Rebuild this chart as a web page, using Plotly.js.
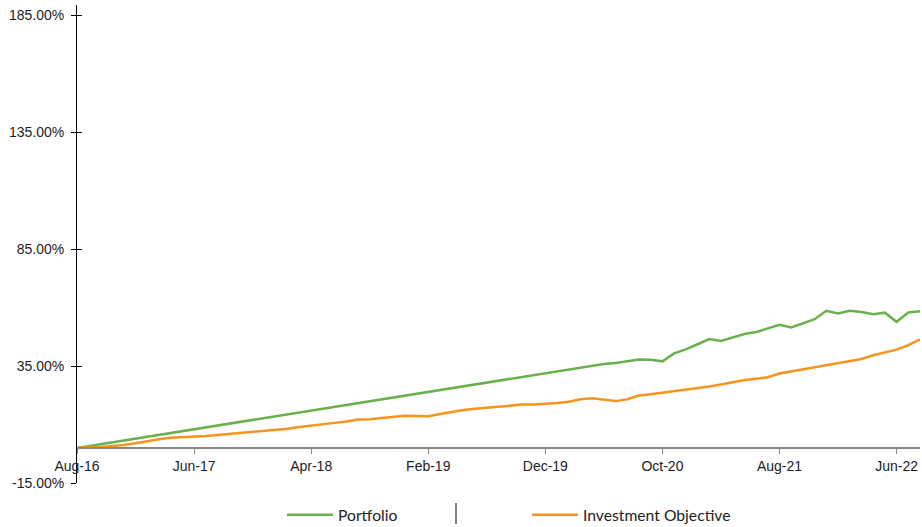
<!DOCTYPE html>
<html>
<head>
<meta charset="utf-8">
<script src="https://cdn.plot.ly/plotly-3.0.1.min.js"></script>
<style>html,body{margin:0;padding:0;background:#fff;}#chart{width:922px;height:527px;}</style>
</head>
<body>
<div id="chart"></div>
<script>
const months = ["Aug-16","Sep-16","Oct-16","Nov-16","Dec-16","Jan-17","Feb-17","Mar-17","Apr-17","May-17",
"Jun-17","Jul-17","Aug-17","Sep-17","Oct-17","Nov-17","Dec-17","Jan-18","Feb-18","Mar-18",
"Apr-18","May-18","Jun-18","Jul-18","Aug-18","Sep-18","Oct-18","Nov-18","Dec-18","Jan-19",
"Feb-19","Mar-19","Apr-19","May-19","Jun-19","Jul-19","Aug-19","Sep-19","Oct-19","Nov-19",
"Dec-19","Jan-20","Feb-20","Mar-20","Apr-20","May-20","Jun-20","Jul-20","Aug-20","Sep-20",
"Oct-20","Nov-20","Dec-20","Jan-21","Feb-21","Mar-21","Apr-21","May-21","Jun-21","Jul-21",
"Aug-21","Sep-21","Oct-21","Nov-21","Dec-21","Jan-22","Feb-22","Mar-22","Apr-22","May-22",
"Jun-22","Jul-22","Aug-22"];

const portfolio = [0.0,0.8,1.6,2.4,3.2,4.0,4.8,5.6,6.4,7.2,
8.0,8.8,9.6,10.4,11.2,12.0,12.8,13.6,14.4,15.2,
16.0,16.8,17.6,18.4,19.2,20.0,20.8,21.6,22.4,23.2,
24.0,24.8,25.6,26.4,27.2,28.0,28.8,29.6,30.4,31.2,
32.0,32.8,33.5,34.3,35.1,35.9,36.3,37.1,37.8,37.7,
37.0,40.4,42.1,44.3,46.5,45.7,47.1,48.7,49.5,51.1,
52.6,51.5,53.2,55.0,58.6,57.5,58.6,58.1,57.1,57.8,
53.9,57.9,58.4];

const objective = [0.0,0.1,0.4,0.8,1.2,2.0,2.9,3.7,4.3,4.5,
4.8,5.1,5.5,5.9,6.5,7.0,7.2,7.7,8.2,8.9,
9.4,10.2,10.7,11.3,12.1,12.2,12.8,13.4,13.7,13.6,
13.5,14.5,15.5,16.2,16.7,17.2,17.7,18.1,18.5,18.6,
18.8,19.2,19.7,20.8,21.2,20.6,20.0,20.8,22.4,22.9,
23.5,24.1,24.7,25.3,26.2,27.1,28.2,29.0,29.6,30.2,
31.8,32.7,33.5,34.3,35.3,36.4,37.1,38.0,39.6,40.8,
42.0,43.9,46.4];

const xTicks = ["Aug-16","Jun-17","Apr-18","Feb-19","Dec-19","Oct-20","Aug-21","Jun-22"];
const yTicks = [-15,35,85,135,185];
const yTickText = ["-15.00%","35.00%","85.00%","135.00%","185.00%"];

const seriesNames = ["Portfolio","Investment Objective"];
const colors = ["#6AB04C","#F7941D"];

const traces = [
  {x: months, y: portfolio, name: seriesNames[0], type: "scatter", mode: "lines",
   line: {color: colors[0], width: 2.5}},
  {x: months, y: objective, name: seriesNames[1], type: "scatter", mode: "lines",
   line: {color: colors[1], width: 2.5}},
  {x: [months[0]], y: [0], yaxis: "y2", showlegend: false, hoverinfo: "skip",
   mode: "markers", marker: {opacity: 0}}
];

const yRange = [-15, 189.3];
const layout = {
  width: 922, height: 527,
  margin: {l: 77, r: 2, t: 5, b: 44, autoexpand: false},
  paper_bgcolor: "#fff", plot_bgcolor: "#fff",
  font: {family: "Liberation Sans, Arial, sans-serif", size: 14, color: "#222"},
  showlegend: true,
  legend: {orientation: "h", xref: "container", yref: "container",
    x: 282/922, xanchor: "left", y: (527-515)/527, yanchor: "middle",
    bgcolor: "rgba(0,0,0,0)",
    font: {family: "Lato, sans-serif", size: 15.7, color: "#222"},
    itemwidth: 46, entrywidth: 184, entrywidthmode: "pixels", traceorder: "normal"},
  xaxis: {type: "category", range: [0, 72], tickmode: "array", tickvals: xTicks, ticktext: xTicks,
    anchor: "free", position: 15/204.3, showline: true, linecolor: "#888", linewidth: 2,
    ticks: "outside", ticklen: 5, tickcolor: "#888", tickwidth: 1, showgrid: false, zeroline: false,
    automargin: false, tickfont: {size: 14, color: "#222"}},
  yaxis: {range: yRange, tickmode: "array", tickvals: yTicks, ticktext: yTickText,
    showline: true, linecolor: "#000", linewidth: 1, ticks: "outside", ticklen: 5, tickcolor: "#000",
    showgrid: false, zeroline: false, automargin: false, ticklabelstandoff: 4,
    tickfont: {size: 14, color: "#222"}},
  yaxis2: {range: yRange, overlaying: "y", side: "left", tickmode: "array", tickvals: yTicks,
    showticklabels: false, ticks: "inside", ticklen: 5, tickcolor: "#000", showline: false,
    showgrid: false, zeroline: false, automargin: false},
  shapes: [
    {type: "line", xref: "paper", yref: "paper", layer: "above", x0: (456-77)/843, x1: (456-77)/843,
     y0: (483-503)/478, y1: (483-524)/478, line: {color: "#000", width: 1}}
  ]
};

Plotly.newPlot("chart", traces, layout, {displayModeBar: false, staticPlot: true});
</script>
</body>
</html>
